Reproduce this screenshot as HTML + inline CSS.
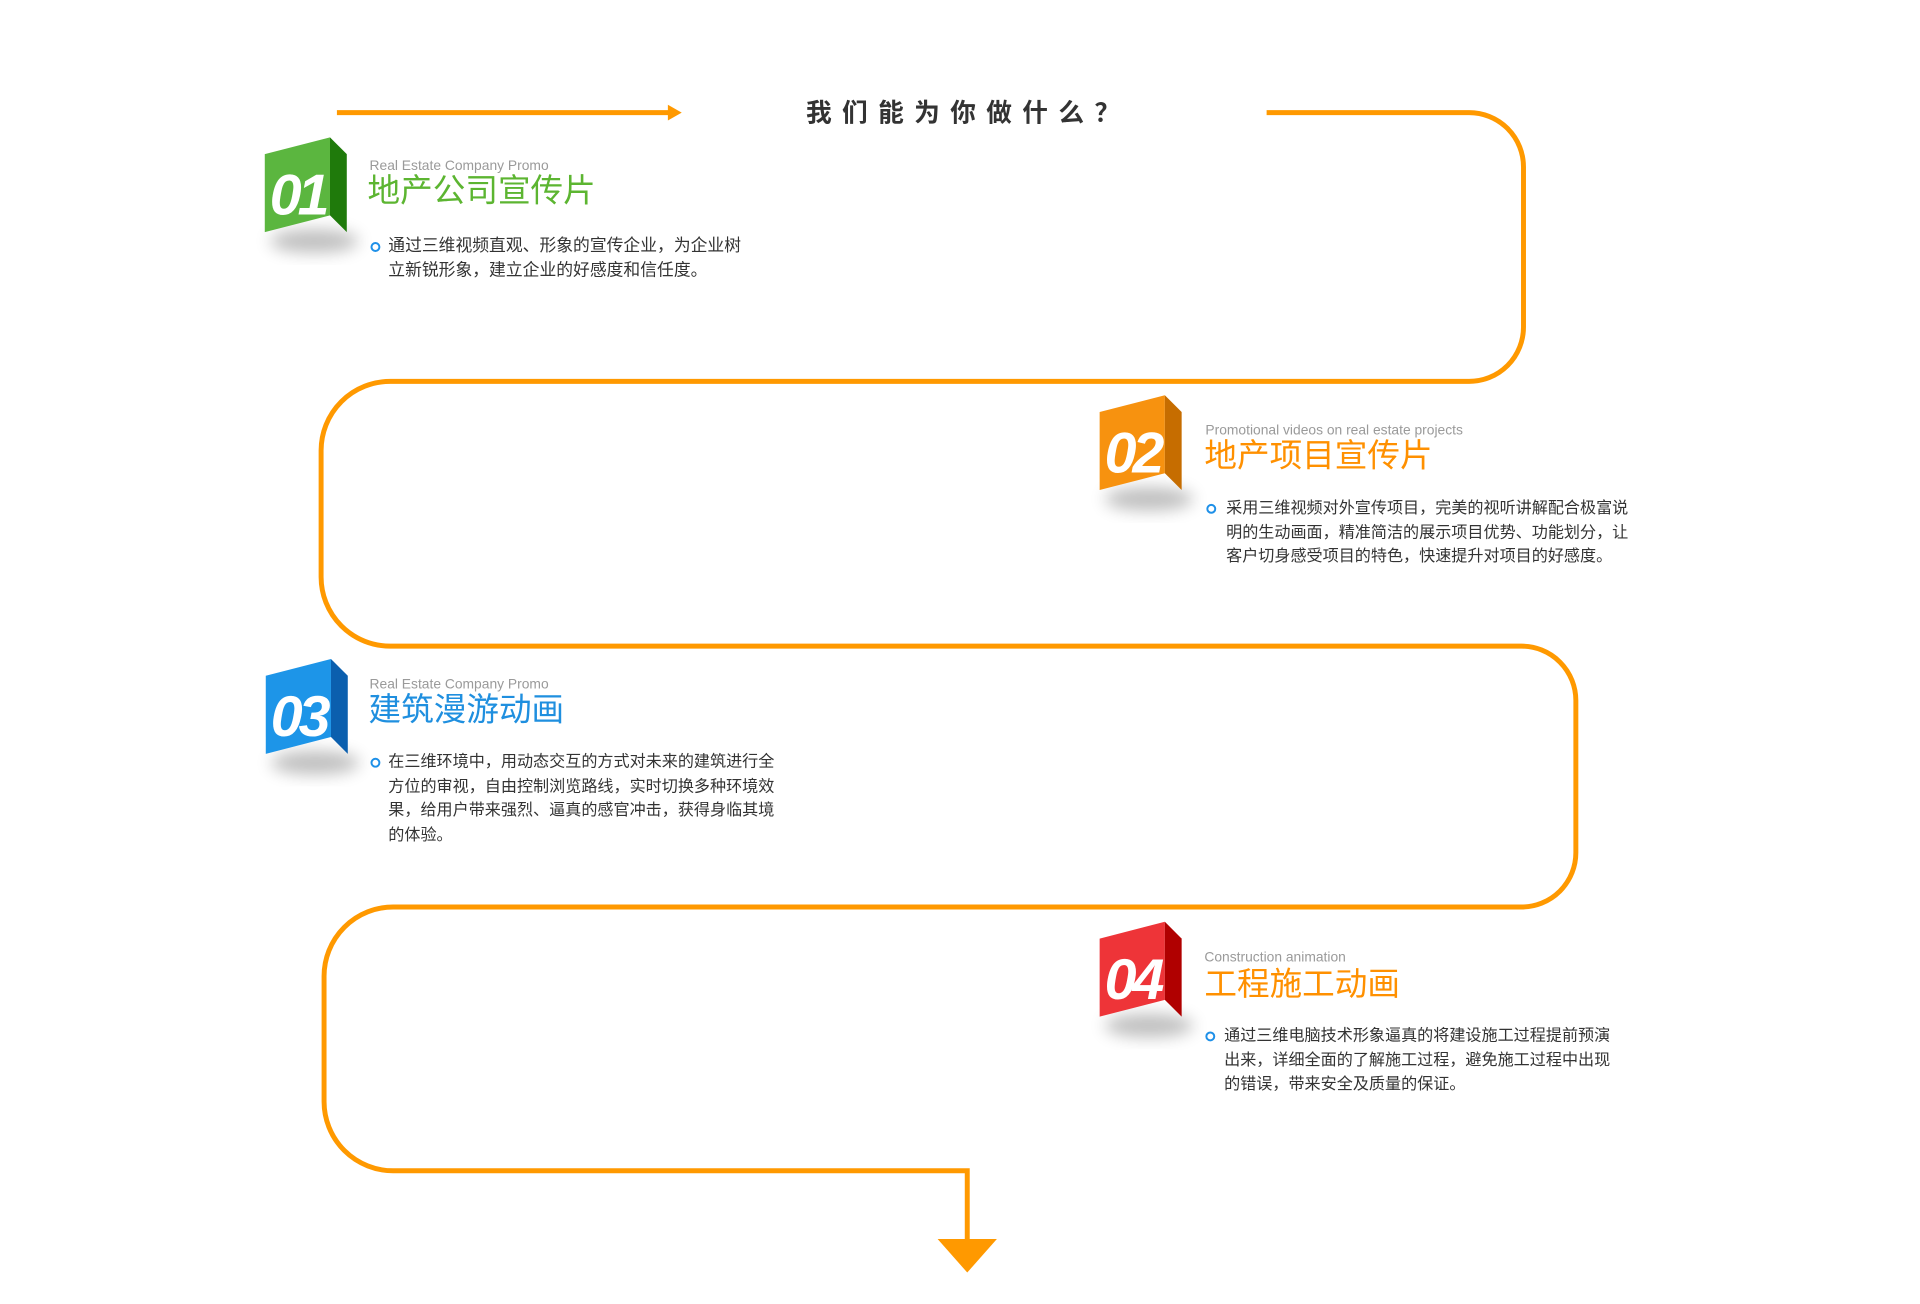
<!DOCTYPE html>
<html><head><meta charset="utf-8"><style>
html,body{margin:0;padding:0;background:#fff;}
body{width:1920px;height:1304px;overflow:hidden;position:relative;font-family:"Liberation Sans","Noto Sans CJK SC",sans-serif;}
#w{position:absolute;left:0;top:0;width:1920px;height:1304px;transform:scale(0.988);transform-origin:0 0;}
.sub{position:absolute;color:#9a9a9a;font-size:14px;white-space:nowrap;}
.ttl{position:absolute;font-size:33px;white-space:nowrap;line-height:1;}
.txt{position:absolute;color:#333;font-size:17px;line-height:24.5px;white-space:nowrap;}
.s{font-size:16.3px;}
.dot{position:absolute;width:6px;height:6px;border:2px solid #1e90e8;border-radius:50%;}
</style></head><body><div id="w">
<svg width="1920" height="1304" style="position:absolute;left:0;top:0">
<defs>
<filter id="b" x="-50%" y="-50%" width="200%" height="200%"><feGaussianBlur stdDeviation="8"/></filter>
</defs>
<g fill="none" stroke="#ff9900" stroke-width="5">
<path d="M341 114 H682"/>
<path d="M1282 114 H1487 A55 55 0 0 1 1542 169 V331 A55 55 0 0 1 1487 386 H395 A70 70 0 0 0 325 456 V584 A70 70 0 0 0 395 654 H1540 A55 55 0 0 1 1595 709 V863 A55 55 0 0 1 1540 918 H398 A70 70 0 0 0 328 988 V1115 A70 70 0 0 0 398 1185 H979 V1256"/>
</g>
<polygon points="676,106 690,114 676,122" fill="#ff9900"/>
<polygon points="949,1254 1009,1254 979,1288" fill="#ff9900"/>
<text x="980" y="123" text-anchor="middle" font-size="26" font-weight="bold" fill="#333" letter-spacing="10.5" font-family="Liberation Sans, Noto Sans CJK SC, sans-serif">我们能为你做什么？</text>

<g transform="translate(268,139)">
<ellipse cx="50" cy="105" rx="45" ry="12" fill="#000" opacity=".25" filter="url(#b)"/>
<polygon points="0,17 66,0 66,79 0,96" fill="#5bb63f"/>
<polygon points="66,0 83,17 83,96 66,79" fill="#1f7a0b"/>
<text x="5" y="78" font-size="58" font-weight="bold" font-style="italic" fill="#fff" letter-spacing="-4" font-family="Liberation Sans, sans-serif">01</text>
</g>
<g transform="translate(1113,400)">
<ellipse cx="50" cy="105" rx="45" ry="12" fill="#000" opacity=".25" filter="url(#b)"/>
<polygon points="0,17 66,0 66,79 0,96" fill="#f7920f"/>
<polygon points="66,0 83,17 83,96 66,79" fill="#c66d00"/>
<text x="5" y="78" font-size="58" font-weight="bold" font-style="italic" fill="#fff" letter-spacing="-4" font-family="Liberation Sans, sans-serif">02</text>
</g>
<g transform="translate(269,667)">
<ellipse cx="50" cy="105" rx="45" ry="12" fill="#000" opacity=".25" filter="url(#b)"/>
<polygon points="0,17 66,0 66,79 0,96" fill="#1d95e8"/>
<polygon points="66,0 83,17 83,96 66,79" fill="#0b5fae"/>
<text x="5" y="78" font-size="58" font-weight="bold" font-style="italic" fill="#fff" letter-spacing="-4" font-family="Liberation Sans, sans-serif">03</text>
</g>
<g transform="translate(1113,933)">
<ellipse cx="50" cy="105" rx="45" ry="12" fill="#000" opacity=".25" filter="url(#b)"/>
<polygon points="0,17 66,0 66,79 0,96" fill="#ee3438"/>
<polygon points="66,0 83,17 83,96 66,79" fill="#b00000"/>
<text x="5" y="78" font-size="58" font-weight="bold" font-style="italic" fill="#fff" letter-spacing="-4" font-family="Liberation Sans, sans-serif">04</text>
</g>
</svg>

<div class="sub" style="left:374px;top:159px">Real Estate Company Promo</div>
<div class="ttl" style="left:372px;top:176px;color:#5cb531">地产公司宣传片</div>
<div class="dot" style="left:375px;top:245px"></div>
<div class="txt" style="left:393px;top:237px">通过三维视频直观、形象的宣传企业，为企业树<br>立新锐形象，建立企业的好感度和信任度。</div>

<div class="sub" style="left:1220px;top:427px">Promotional videos on real estate projects</div>
<div class="ttl" style="left:1219px;top:444px;color:#ff9000">地产项目宣传片</div>
<div class="dot" style="left:1221px;top:510px"></div>
<div class="txt s" style="left:1241px;top:502px">采用三维视频对外宣传项目，完美的视听讲解配合极富说<br>明的生动画面，精准简洁的展示项目优势、功能划分，让<br>客户切身感受项目的特色，快速提升对项目的好感度。</div>

<div class="sub" style="left:374px;top:684px">Real Estate Company Promo</div>
<div class="ttl" style="left:373px;top:701px;color:#1f8fdf">建筑漫游动画</div>
<div class="dot" style="left:375px;top:767px"></div>
<div class="txt s" style="left:393px;top:759px">在三维环境中，用动态交互的方式对未来的建筑进行全<br>方位的审视，自由控制浏览路线，实时切换多种环境效<br>果，给用户带来强烈、逼真的感官冲击，获得身临其境<br>的体验。</div>

<div class="sub" style="left:1219px;top:960px">Construction animation</div>
<div class="ttl" style="left:1219px;top:979px;color:#ff9000">工程施工动画</div>
<div class="dot" style="left:1220px;top:1044px"></div>
<div class="txt s" style="left:1239px;top:1036px">通过三维电脑技术形象逼真的将建设施工过程提前预演<br>出来，详细全面的了解施工过程，避免施工过程中出现<br>的错误，带来安全及质量的保证。</div>
</div></body></html>
